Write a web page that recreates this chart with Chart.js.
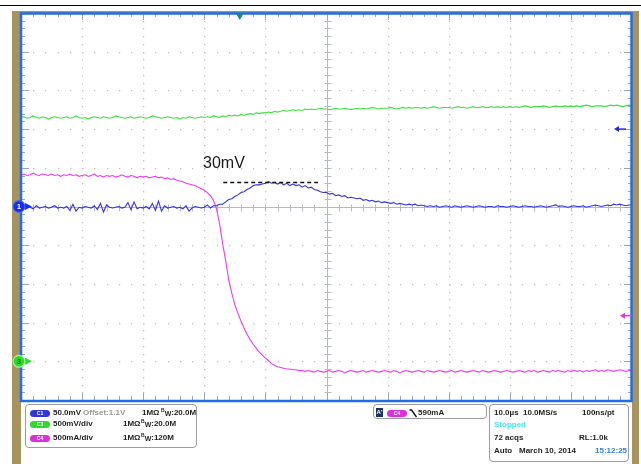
<!DOCTYPE html>
<html>
<head>
<meta charset="utf-8">
<script src="https://cdn.jsdelivr.net/npm/chart.js@4"></script>
<style>
  body { margin: 0; background: #fff; }
  #wrap { position: relative; width: 641px; height: 464px; overflow: hidden; font-family: "Liberation Sans", Arial, sans-serif; }
  canvas { position: absolute; left: 0; top: 0; }
  .box { position: absolute; box-sizing: border-box; border: 1px solid #9c9c9c; border-radius: 4px; }
  .t { position: absolute; font-size: 8px; font-weight: bold; color: #1e1e1e; white-space: nowrap; line-height: 10px; }
  .badge { position: absolute; width: 20px; height: 7px; border-radius: 4px; color: #fff; font-size: 5px; line-height: 7px; text-align: center; font-weight: bold; }
  .sb { font-size: 5px; position: relative; top: -3px; }
  .sw { font-size: 7px; position: relative; top: 1px; }
</style>
</head>
<body>
<div id="wrap">
  <canvas id="scope" width="641" height="464" style="width:641px;height:464px"></canvas>

  <div class="box" style="left:25px;top:404px;width:172px;height:44px"></div>
  <span class="badge" style="left:30px;top:410px;background:#3036dc">C1</span>
  <span class="t" style="left:53px;top:408px">50.0mV</span>
  <span class="t" style="left:83px;top:408px;color:#9a9a9a">Offset:1.1V</span>
  <span class="t" style="left:142px;top:408px">1MΩ</span>
  <span class="t" style="left:161px;top:408px"><span class="sb">B</span><span class="sw">W</span>:20.0M</span>
  <span class="badge" style="left:30px;top:421px;background:#30d830">C3</span>
  <span class="t" style="left:53px;top:419px">500mV/div</span>
  <span class="t" style="left:123px;top:419px">1MΩ</span>
  <span class="t" style="left:141px;top:419px"><span class="sb">B</span><span class="sw">W</span>:20.0M</span>
  <span class="badge" style="left:30px;top:435px;background:#dc30dc">C4</span>
  <span class="t" style="left:53px;top:433px">500mA/div</span>
  <span class="t" style="left:123px;top:433px">1MΩ</span>
  <span class="t" style="left:141px;top:433px"><span class="sb">B</span><span class="sw">W</span>:120M</span>

  <div class="box" style="left:373px;top:404px;width:114px;height:15px"></div>
  <span style="position:absolute;left:376px;top:408px;width:7px;height:9px;background:#1d3260;color:#fff;font-size:6px;line-height:9px;text-align:center;font-weight:bold">A'</span>
  <span class="badge" style="left:387px;top:410px;background:#dc30dc">C4</span>
  <svg style="position:absolute;left:409px;top:409px" width="9" height="9"><path d="M0.5 1 L2.5 1 L7.5 8" stroke="#111" stroke-width="1.3" fill="none"/></svg>
  <span class="t" style="left:418px;top:408px">590mA</span>

  <div class="box" style="left:489px;top:404px;width:140px;height:58px"></div>
  <span class="t" style="left:494px;top:408px">10.0µs</span>
  <span class="t" style="left:523px;top:408px">10.0MS/s</span>
  <span class="t" style="left:582px;top:408px">100ns/pt</span>
  <span class="t" style="left:494px;top:420px;color:#3ee4f4">Stopped</span>
  <span class="t" style="left:494px;top:433px">72 acqs</span>
  <span class="t" style="left:579px;top:433px">RL:1.0k</span>
  <span class="t" style="left:494px;top:446px">Auto</span>
  <span class="t" style="left:519px;top:446px">March 10, 2014</span>
  <span class="t" style="left:595px;top:446px;color:#2f7fe6">15:12:25</span>
</div>

<script>
// record: 10 us/div, samples every 0.5 us from 0 to 100 us
const sampleStepUs = 0.5;

// C3 (green), volts
const c3Volts = [
  3.15, 3.16, 3.14, 3.15, 3.17, 3.15, 3.14, 3.16, 3.15, 3.13,
  3.15, 3.16, 3.15, 3.14, 3.15, 3.16, 3.14, 3.15, 3.17, 3.15,
  3.14, 3.15, 3.13, 3.15, 3.16, 3.15, 3.14, 3.16, 3.15, 3.14,
  3.15, 3.17, 3.16, 3.15, 3.14, 3.15, 3.16, 3.14, 3.15, 3.16,
  3.15, 3.14, 3.15, 3.17, 3.16, 3.15, 3.14, 3.15, 3.16, 3.15,
  3.14, 3.15, 3.13, 3.15, 3.14, 3.16, 3.15, 3.14, 3.15, 3.16,
  3.15, 3.16, 3.15, 3.17, 3.16, 3.15, 3.17, 3.16, 3.18, 3.17,
  3.18, 3.17, 3.19, 3.18, 3.19, 3.20, 3.19, 3.21, 3.20, 3.21,
  3.21, 3.22, 3.21, 3.23, 3.22, 3.23, 3.24, 3.23, 3.24, 3.25,
  3.24, 3.25, 3.24, 3.26, 3.25, 3.26, 3.25, 3.26, 3.27, 3.26,
  3.26, 3.25, 3.26, 3.27, 3.26, 3.26, 3.27, 3.26, 3.25, 3.26,
  3.27, 3.26, 3.27, 3.26, 3.27, 3.28, 3.27, 3.26, 3.27, 3.27,
  3.27, 3.28, 3.27, 3.26, 3.27, 3.28, 3.27, 3.28, 3.27, 3.28,
  3.28, 3.27, 3.28, 3.27, 3.28, 3.29, 3.28, 3.27, 3.28, 3.28,
  3.28, 3.27, 3.28, 3.29, 3.28, 3.28, 3.27, 3.28, 3.29, 3.28,
  3.28, 3.29, 3.28, 3.28, 3.29, 3.28, 3.29, 3.28, 3.29, 3.28,
  3.29, 3.28, 3.29, 3.28, 3.29, 3.30, 3.29, 3.28, 3.29, 3.29,
  3.29, 3.30, 3.29, 3.28, 3.29, 3.30, 3.29, 3.29, 3.30, 3.29,
  3.30, 3.29, 3.30, 3.29, 3.30, 3.31, 3.30, 3.29, 3.30, 3.30,
  3.30, 3.29, 3.30, 3.31, 3.30, 3.31, 3.30, 3.29, 3.30, 3.31,
  3.30
];

// C4 (magenta), amps
const c4Amps = [
  2.41, 2.42, 2.40, 2.41, 2.43, 2.41, 2.40, 2.42, 2.41, 2.40,
  2.42, 2.40, 2.41, 2.39, 2.41, 2.40, 2.42, 2.40, 2.41, 2.39,
  2.40, 2.41, 2.39, 2.40, 2.42, 2.39, 2.40, 2.38, 2.40, 2.39,
  2.40, 2.38, 2.39, 2.41, 2.39, 2.38, 2.40, 2.39, 2.37, 2.39,
  2.38, 2.39, 2.37, 2.38, 2.39, 2.37, 2.38, 2.36, 2.37, 2.35,
  2.36, 2.34, 2.33, 2.32, 2.30, 2.29, 2.28, 2.27, 2.25, 2.23,
  2.21, 2.18, 2.14, 2.08, 1.97, 1.78, 1.52, 1.30, 1.05, 0.88,
  0.73, 0.62, 0.52, 0.43, 0.35, 0.28, 0.22, 0.17, 0.12, 0.08,
  0.04, 0.01, -0.03, -0.05, -0.07, -0.08, -0.09, -0.10, -0.10, -0.11,
  -0.11, -0.12, -0.12, -0.13, -0.12, -0.13, -0.14, -0.12, -0.13, -0.14,
  -0.13, -0.12, -0.14, -0.13, -0.12, -0.13, -0.15, -0.13, -0.12, -0.13,
  -0.14, -0.13, -0.12, -0.14, -0.13, -0.12, -0.13, -0.14, -0.13, -0.12,
  -0.13, -0.14, -0.12, -0.13, -0.15, -0.13, -0.12, -0.13, -0.14, -0.13,
  -0.12, -0.13, -0.14, -0.12, -0.13, -0.14, -0.13, -0.12, -0.13, -0.14,
  -0.13, -0.12, -0.14, -0.13, -0.12, -0.13, -0.14, -0.13, -0.12, -0.13,
  -0.14, -0.12, -0.13, -0.14, -0.13, -0.12, -0.13, -0.14, -0.13, -0.12,
  -0.13, -0.14, -0.13, -0.12, -0.13, -0.14, -0.12, -0.13, -0.12, -0.14,
  -0.13, -0.12, -0.13, -0.14, -0.12, -0.13, -0.12, -0.13, -0.14, -0.12,
  -0.13, -0.12, -0.13, -0.12, -0.14, -0.12, -0.13, -0.12, -0.11, -0.13,
  -0.12, -0.13, -0.11, -0.12, -0.13, -0.12, -0.11, -0.12, -0.13, -0.12,
  -0.12
];

// C1 (blue), millivolts around the 1.1 V offset
const c1Millivolts = [
  -1, -2, 0, -1, -3, 1, -2, -1, 0, -2,
  -1, 1, -2, -1, -2, 0, -5, 3, -6, -1,
  -2, 0, -1, -2, 1, -4, 4, -7, 2, -1,
  -2, -1, 0, -2, -1, 5, -4, 6, -3, -1,
  -2, 0, -3, 4, -5, 7, -6, 1, -2, -1,
  0, -2, -1, -3, 1, -6, -2, 0, -1, -2,
  -1, 2, -2, 1, 1, 3, 3, 6, 9, 10,
  13, 15, 18, 19, 22, 24, 27, 28, 28, 29,
  30, 32, 30, 31, 29, 31, 28, 30, 27, 29,
  27, 28, 25, 27, 24, 25, 22, 21, 19, 18,
  18, 16, 17, 14, 15, 13, 14, 11, 12, 11,
  10, 11, 8, 9, 7, 8, 6, 7, 5, 6,
  5, 4, 5, 3, 4, 3, 2, 3, 2, 3,
  1, 2, 1, 0, 1, 0, 1, -1, 0, 1,
  0, -1, 1, 0, -1, 0, 1, 0, -1, 0,
  1, 0, -1, 0, 0, -1, 1, 0, 0, -1,
  0, 1, 0, -1, 0, 1, 0, 0, -1, 0,
  1, 0, -1, 0, 1, 2, 0, 1, 0, -1,
  0, 1, 0, 0, 1, -1, 0, 1, 2, 1,
  0, 1, 2, 1, 3, 2, 3, 2, 1, 2,
  2
];

// markers and annotation
const triggerTimeUs = 35.8;
const triggerLevelAmps = 0.59;
const c1RefMillivolts = 100;
const peakMillivolts = 31;
const peakStartUs = 33.1;
const peakEndUs = 48.6;
const peakLabel = "30mV";

const frameTan = "#a8935e";
const borderBlue = "#1f6ee6";
const tickGrey = "#9ca4b6";

function toPoints(values) {
  return values.map((v, i) => ({ x: i * sampleStepUs, y: v }));
}

function circleMarker(ctx, x, y, fill, ring, label, labelColor, arrowColor) {
  ctx.fillStyle = arrowColor;
  ctx.beginPath();
  ctx.moveTo(x + 6, y - 3.5);
  ctx.lineTo(x + 13, y);
  ctx.lineTo(x + 6, y + 3.5);
  ctx.closePath();
  ctx.fill();
  ctx.beginPath();
  ctx.arc(x, y, 6.5, 0, Math.PI * 2);
  ctx.fillStyle = ring;
  ctx.fill();
  ctx.beginPath();
  ctx.arc(x, y, 5.3, 0, Math.PI * 2);
  ctx.fillStyle = fill;
  ctx.fill();
  ctx.fillStyle = labelColor;
  ctx.font = "bold 7px 'Liberation Sans', Arial, sans-serif";
  ctx.textAlign = "center";
  ctx.textBaseline = "middle";
  ctx.fillText(label, x, y + 0.5);
}

function leftArrow(ctx, x, y, color) {
  ctx.fillStyle = color;
  ctx.beginPath();
  ctx.moveTo(x, y);
  ctx.lineTo(x + 5, y - 3);
  ctx.lineTo(x + 5, y + 3);
  ctx.closePath();
  ctx.fill();
  ctx.fillRect(x + 4, y - 0.75, 8, 1.5);
}

const scopeScreen = {
  id: "scopeScreen",
  beforeDraw(chart) {
    const ctx = chart.ctx;
    const a = chart.chartArea;
    ctx.save();
    ctx.fillStyle = "#fff";
    ctx.fillRect(0, 0, chart.width, chart.height);
    ctx.fillStyle = "#000";
    ctx.fillRect(0, 5, chart.width, 1);
    ctx.fillStyle = frameTan;
    ctx.fillRect(a.left - 9, a.top - 2, 9, chart.height);
    ctx.fillRect(a.right, a.top - 2, 7, chart.height);
    ctx.fillRect(a.left - 9, a.top - 2, a.right - a.left + 16, 2);
    ctx.restore();
  },
  beforeDatasetsDraw(chart) {
    const ctx = chart.ctx;
    const a = chart.chartArea;
    const xs = chart.scales.x;
    const ys = chart.scales.yC1;
    const px = t => Math.round(xs.getPixelForValue(t)) + 0.5;
    const py = v => Math.round(ys.getPixelForValue(v)) + 0.5;
    ctx.save();

    // dotted division lines
    ctx.fillStyle = "#c0c0c0";
    for (let t = 10; t < 100; t += 10) {
      if (t === 50) continue;
      for (let v = -240; v <= 240; v += 10) ctx.fillRect(px(t) - 0.5, py(v) - 0.5, 1.3, 1.3);
    }
    for (let v = -200; v <= 200; v += 50) {
      if (v === 0) continue;
      for (let t = 2; t < 100; t += 2) ctx.fillRect(px(t) - 0.5, py(v) - 0.5, 1.3, 1.3);
    }

    // centre cross with ticks
    ctx.strokeStyle = "#b4b9c6";
    ctx.lineWidth = 1;
    ctx.beginPath();
    ctx.moveTo(px(50), a.top);
    ctx.lineTo(px(50), a.bottom);
    ctx.moveTo(a.left, py(0));
    ctx.lineTo(a.right, py(0));
    for (let v = -240; v <= 240; v += 10) {
      ctx.moveTo(px(50) - 3, py(v));
      ctx.lineTo(px(50) + 4, py(v));
    }
    for (let t = 2; t < 100; t += 2) {
      ctx.moveTo(px(t), py(0) - 3);
      ctx.lineTo(px(t), py(0) + 4);
    }
    ctx.stroke();

    // edge ticks
    ctx.strokeStyle = tickGrey;
    ctx.beginPath();
    for (let v = -240; v <= 240; v += 10) {
      const len = v % 50 === 0 ? 8 : 4;
      ctx.moveTo(a.left, py(v));
      ctx.lineTo(a.left + len, py(v));
      ctx.moveTo(a.right, py(v));
      ctx.lineTo(a.right - len, py(v));
    }
    for (let t = 2; t < 100; t += 2) {
      const len = t % 10 === 0 ? 7 : 4;
      ctx.moveTo(px(t), a.top);
      ctx.lineTo(px(t), a.top + len);
      ctx.moveTo(px(t), a.bottom);
      ctx.lineTo(px(t), a.bottom - len);
    }
    ctx.stroke();
    ctx.restore();
  },
  afterDatasetsDraw(chart) {
    const ctx = chart.ctx;
    const a = chart.chartArea;
    const xs = chart.scales.x;
    const y1 = chart.scales.yC1;
    const y3 = chart.scales.yC3;
    const y4 = chart.scales.yC4;
    ctx.save();

    // annotation
    const ya = y1.getPixelForValue(peakMillivolts);
    ctx.strokeStyle = "#111";
    ctx.lineWidth = 1.3;
    ctx.setLineDash([4, 3]);
    ctx.beginPath();
    ctx.moveTo(xs.getPixelForValue(peakStartUs), ya);
    ctx.lineTo(xs.getPixelForValue(peakEndUs), ya);
    ctx.stroke();
    ctx.setLineDash([]);
    ctx.fillStyle = "#1a1a1a";
    ctx.font = "16px 'Liberation Sans', Arial, sans-serif";
    ctx.textAlign = "left";
    ctx.textBaseline = "alphabetic";
    ctx.fillText(peakLabel, xs.getPixelForValue(29.8), y1.getPixelForValue(50));

    // screen border
    ctx.strokeStyle = borderBlue;
    ctx.lineWidth = 2.5;
    ctx.strokeRect(a.left, a.top + 0.5, a.right - a.left - 0.5, a.bottom - a.top + 0.5);

    // trigger position
    const tx = xs.getPixelForValue(triggerTimeUs);
    ctx.fillStyle = "#168a8c";
    ctx.beginPath();
    ctx.moveTo(tx - 3.5, a.top + 1);
    ctx.lineTo(tx + 3.5, a.top + 1);
    ctx.lineTo(tx, a.top + 7);
    ctx.closePath();
    ctx.fill();

    // right side arrows
    leftArrow(ctx, a.right - 18, y1.getPixelForValue(c1RefMillivolts), "#2a2ad8");
    leftArrow(ctx, a.right - 12, y4.getPixelForValue(triggerLevelAmps), "#e634e6");

    // ground markers
    circleMarker(ctx, a.left - 2, y1.getPixelForValue(0), "#1530e6", "#4a64f0", "1", "#fff", "#1530e6");
    circleMarker(ctx, a.left - 2, y3.getPixelForValue(0), "#28dc28", "#a8f0a8", "3", "#1c6c1c", "#28dc28");
    ctx.restore();
  }
};

new Chart(document.getElementById("scope"), {
  type: "line",
  data: {
    datasets: [
      { label: "C1", data: toPoints(c1Millivolts), yAxisID: "yC1", borderColor: "#3434e2", borderWidth: 1.1 },
      { label: "C4", data: toPoints(c4Amps), yAxisID: "yC4", borderColor: "#ee3cee", borderWidth: 1.1 },
      { label: "C3", data: toPoints(c3Volts), yAxisID: "yC3", borderColor: "#3ce23c", borderWidth: 1.1 }
    ]
  },
  options: {
    responsive: false,
    animation: false,
    devicePixelRatio: 1,
    events: [],
    layout: { padding: { left: 21, right: 9, top: 13, bottom: 64 } },
    elements: { point: { radius: 0 }, line: { tension: 0 } },
    plugins: { legend: { display: false }, tooltip: { enabled: false } },
    scales: {
      x: { type: "linear", min: 0, max: 100, display: false },
      yC1: { type: "linear", min: -250, max: 250, display: false },
      yC3: { type: "linear", min: -0.5, max: 4.5, display: false },
      yC4: { type: "linear", min: -0.5, max: 4.5, display: false }
    }
  },
  plugins: [scopeScreen]
});
</script>
</body>
</html>
